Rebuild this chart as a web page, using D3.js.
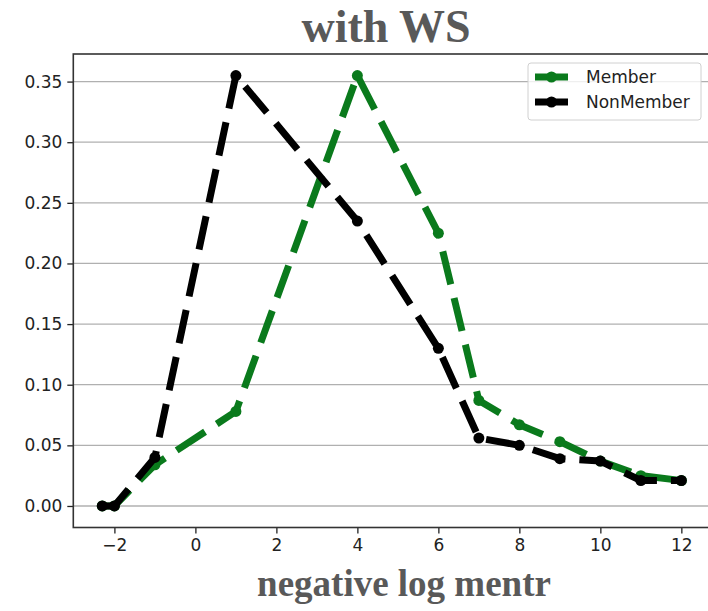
<!DOCTYPE html>
<html>
<head>
<meta charset="utf-8">
<script src="https://cdn.jsdelivr.net/npm/d3@7"></script>
<style>
  body { margin: 0; background: #fff; }
  svg { display: block; }
</style>
</head>
<body>
<div id="chart"></div>
<script>
// data
const xValues = [-2.3, -2, -1, 1, 4, 6, 7, 8, 9, 10, 11, 12];
const memberValues = [0, 0, 0.034, 0.078, 0.355, 0.225, 0.087, 0.067, 0.053, 0.037, 0.025, 0.021];
const nonMemberValues = [0, 0, 0.04, 0.355, 0.235, 0.13, 0.056, 0.05, 0.039, 0.037, 0.021, 0.021];
const seriesNames = ['Member', 'NonMember'];
const xTicks = [-2, 0, 2, 4, 6, 8, 10, 12];
const yTicks = [0, 0.05, 0.10, 0.15, 0.20, 0.25, 0.30, 0.35];

const W = 708, H = 611;
const plot = { left: 73.3, right: 710.3, top: 54, bottom: 527.5 };
const colors = ['#0a7a1c', '#000000'];

const svg = d3.select('#chart').append('svg')
    .attr('width', W)
    .attr('height', H);

// matplotlib style 5% margins
const x = d3.scaleLinear().domain([-3.015, 12.715]).range([plot.left, plot.right]);
const y = d3.scaleLinear().domain([-0.01775, 0.37275]).range([plot.bottom, plot.top]);

// horizontal grid
svg.append('g')
    .selectAll('line')
    .data(yTicks)
    .enter().append('line')
    .attr('x1', plot.left).attr('x2', plot.right)
    .attr('y1', (d) => y(d)).attr('y2', (d) => y(d))
    .attr('stroke', '#b0b0b0')
    .attr('stroke-width', 1.3);

// axes
const yAxis = svg.append('g')
    .attr('transform', `translate(${plot.left},0)`)
    .call(d3.axisLeft(y).tickValues(yTicks).tickFormat(d3.format('.2f')).tickSize(6).tickPadding(5));
const xAxis = svg.append('g')
    .attr('transform', `translate(0,${plot.bottom})`)
    .call(d3.axisBottom(x).tickValues(xTicks).tickFormat(d3.format('d')).tickSize(6).tickPadding(5));
[yAxis, xAxis].forEach((g) => {
    g.select('.domain').remove();
    g.selectAll('line').attr('stroke', '#222').attr('stroke-width', 1.3);
    g.selectAll('text')
        .attr('fill', '#222')
        .style('font-family', 'DejaVu Sans')
        .style('font-size', '17px');
});

// frame
svg.append('rect')
    .attr('x', plot.left).attr('y', plot.top)
    .attr('width', plot.right - plot.left)
    .attr('height', plot.bottom - plot.top)
    .attr('fill', 'none')
    .attr('stroke', '#333')
    .attr('stroke-width', 1.6);

// series
const line = d3.line().x((d) => x(d[0])).y((d) => y(d[1]));
[memberValues, nonMemberValues].forEach((vals, i) => {
    const pts = xValues.map((v, j) => [v, vals[j]]);
    const g = svg.append('g');
    g.append('path')
        .attr('d', line(pts))
        .attr('fill', 'none')
        .attr('stroke', colors[i])
        .attr('stroke-width', 7)
        .attr('stroke-dasharray', '34,14')
        .attr('stroke-linejoin', 'round');
    g.selectAll('circle')
        .data(pts)
        .enter().append('circle')
        .attr('cx', (d) => x(d[0]))
        .attr('cy', (d) => y(d[1]))
        .attr('r', 5.5)
        .attr('fill', colors[i]);
});

// legend
const legend = svg.append('g');
legend.append('rect')
    .attr('x', 528).attr('y', 63)
    .attr('width', 173).attr('height', 57)
    .attr('rx', 3)
    .attr('fill', 'rgba(255,255,255,0.8)')
    .attr('stroke', '#d0d0d0');
seriesNames.forEach((name, i) => {
    const ly = 77 + i * 25;
    legend.append('line')
        .attr('x1', 535).attr('x2', 568)
        .attr('y1', ly).attr('y2', ly)
        .attr('stroke', colors[i])
        .attr('stroke-width', 7);
    legend.append('circle')
        .attr('cx', 551.5).attr('cy', ly)
        .attr('r', 5.5)
        .attr('fill', colors[i]);
    legend.append('text')
        .attr('x', 586).attr('y', ly + 6)
        .attr('fill', '#222')
        .style('font-family', 'DejaVu Sans')
        .style('font-size', '17px')
        .text(name);
});

// title and x label
svg.append('text')
    .attr('x', 386).attr('y', 42)
    .attr('text-anchor', 'middle')
    .attr('fill', '#595959')
    .style('font-family', 'Liberation Serif')
    .style('font-weight', 'bold')
    .style('font-size', '46px')
    .text('with WS');
svg.append('text')
    .attr('x', 404).attr('y', 596)
    .attr('text-anchor', 'middle')
    .attr('fill', '#595959')
    .style('font-family', 'Liberation Serif')
    .style('font-weight', 'bold')
    .style('font-size', '37px')
    .text('negative log mentr');
</script>
</body>
</html>
